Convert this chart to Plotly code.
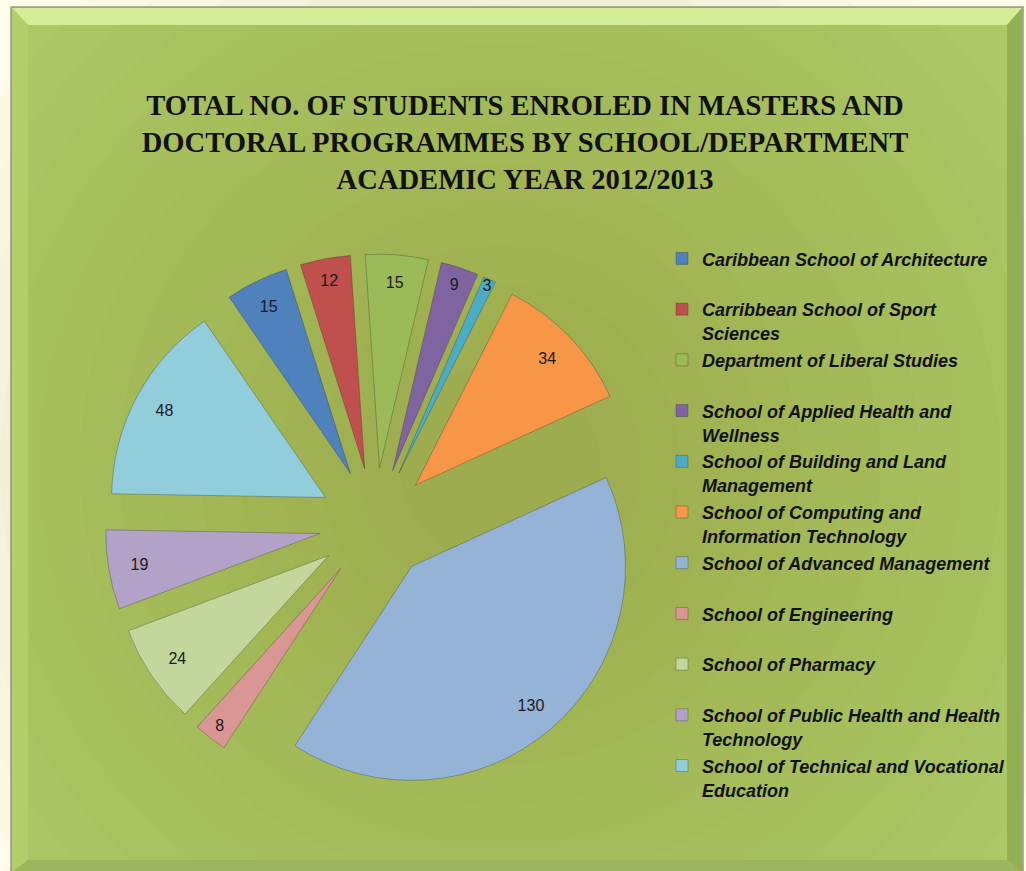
import plotly.graph_objects as go

# ---- data ----
schools = [
    "Caribbean School of Architecture",
    "Carribbean School of Sport<br>Sciences",
    "Department of Liberal Studies",
    "School of Applied Health and<br>Wellness",
    "School of Building and Land<br>Management",
    "School of Computing and<br>Information Technology",
    "School of Advanced Management",
    "School of Engineering",
    "School of Pharmacy",
    "School of Public Health and Health<br>Technology",
    "School of Technical and Vocational<br>Education",
]
students = [15, 12, 15, 9, 3, 34, 130, 8, 24, 19, 48]
slice_colors = ["#4F81BD", "#C0504D", "#9BBB59", "#8064A2", "#4BACC6", "#F79646",
                "#95B3D7", "#D99694", "#C3D69B", "#B3A2C7", "#92CDDC"]
title_lines = ["TOTAL NO. OF STUDENTS ENROLED IN MASTERS AND",
               "DOCTORAL PROGRAMMES BY SCHOOL/DEPARTMENT",
               "ACADEMIC YEAR 2012/2013"]

W, H = 1026, 871
def px(x): return x / W
def py(y): return 1 - y / H

# legend entries: every entry two lines high so that slots are equal
def legend_label(name):
    lines = name.split("<br>")
    if len(lines) == 1:
        lines.append("&nbsp;")
    return "<br>".join(f"<span style='font-size:18px'>{l}</span>" for l in lines)

labels = [legend_label(s) for s in schools]

pie_common = dict(
    labels=labels,
    values=students,
    sort=False,
    direction="clockwise",
    rotation=-34.5,
    pull=0.262,
    domain=dict(x=[px(105), px(645)], y=[py(794), py(254)]),
)

fig = go.Figure()
# the slices
fig.add_trace(go.Pie(
    **pie_common,
    textinfo="none",
    marker=dict(colors=slice_colors, line=dict(color="rgba(40,40,40,0.3)", width=1)),
    hoverinfo="label+value",
))
# value labels, placed toward the outer part of each slice
fig.add_trace(go.Pie(
    **pie_common,
    hole=0.71,
    textinfo="value",
    textposition="inside",
    insidetextorientation="horizontal",
    textfont=dict(family="Liberation Sans, Arial", size=16, color="#1a1a1a"),
    marker=dict(colors=["rgba(0,0,0,0)"] * len(students), line=dict(width=0)),
    showlegend=False,
    hoverinfo="skip",
))

shapes = []
# frame
shapes.append(dict(type="rect", xref="paper", yref="paper", x0=px(11), x1=px(1023), y0=py(873), y1=py(7),
                   fillcolor="#ADC866", line=dict(color="#9a9a86", width=1.5), layer="below"))
# radial darkening toward centre
cx, cy = 500, 465
for rad in range(620, 60, -40):
    shapes.append(dict(type="circle", xref="paper", yref="paper",
                       x0=px(cx - rad), x1=px(cx + rad), y0=py(cy + rad), y1=py(cy - rad),
                       fillcolor="rgba(115,125,45,0.022)", line=dict(width=0), layer="below"))
# bevels
def poly(pts, color):
    d = "M " + " L ".join(f"{px(x)},{py(y)}" for x, y in pts) + " Z"
    return dict(type="path", xref="paper", yref="paper", path=d, fillcolor=color,
                line=dict(width=0), layer="below")
shapes.append(poly([(12, 8), (1022, 8), (1007, 25), (28, 25)], "#D3EC96"))
shapes.append(poly([(12, 8), (28, 25), (28, 860), (12, 872)], "#B3CF6C"))
shapes.append(poly([(1022, 8), (1022, 872), (1007, 860), (1007, 25)], "#94AE53"))
shapes.append(poly([(28, 860), (1007, 860), (1022, 872), (12, 872)], "#9DB55E"))

fig.update_layout(
    width=W, height=H,
    margin=dict(l=0, r=0, t=0, b=0),
    paper_bgcolor="#FFFBEA",
    plot_bgcolor="rgba(0,0,0,0)",
    shapes=shapes,
    uniformtext=dict(minsize=16, mode="show"),
    title=dict(text="<br>".join(title_lines), x=px(525), xanchor="center",
               y=py(115), yanchor="middle", yref="container",
               font=dict(family="Liberation Serif, Times New Roman", size=28.6, color="#111111", weight="bold")),
    legend=dict(x=px(662), y=py(240), xanchor="left", yanchor="top",
                font=dict(family="Liberation Sans, Arial", size=18.35, color="#111111",
                          weight="bold", style="italic"),
                valign="top", bgcolor="rgba(0,0,0,0)", borderwidth=0),
    showlegend=True,
)

fig.write_html("out.html", config={"displayModeBar": False},
               post_script="document.body.style.margin='0px';")
